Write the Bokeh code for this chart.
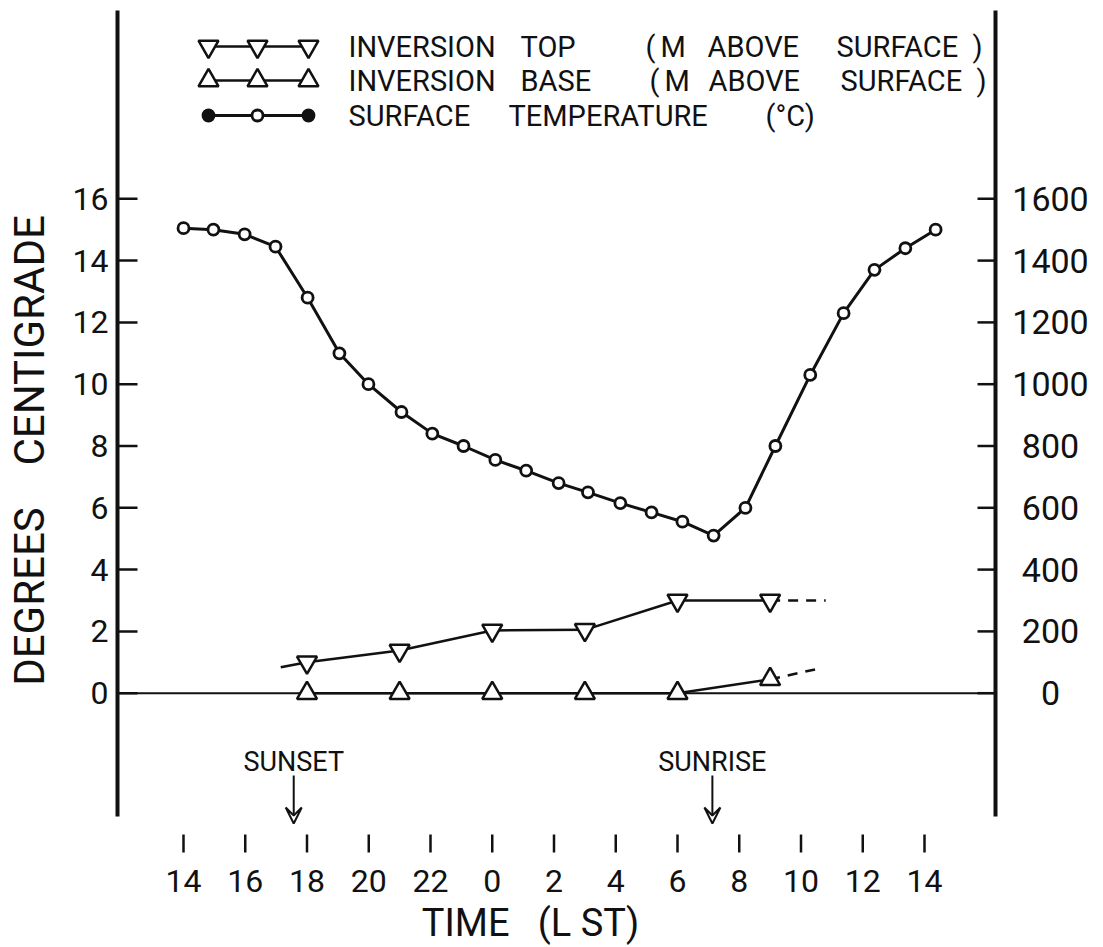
from bokeh.plotting import figure
from bokeh.models import Range1d, Arrow, VeeHead, ColumnDataSource
from bokeh.embed import file_html
from bokeh.resources import INLINE
from bokeh.core.properties import value

FONT = "Roboto"
INK = "#111111"
NB = "\u00a0"

# Surface temperature (deg C), read hourly from 14 LST to 14 LST next day;
# times are hours elapsed since 14 LST as plotted
temp_hours = [0, 0.97, 1.98, 2.98, 4.02, 5.05, 5.99, 7.06, 8.06, 9.07, 10.1, 11.1, 12.15,
              13.1, 14.15, 15.16, 16.16, 17.17, 18.2, 19.17, 20.3, 21.38, 22.38, 23.38, 24.36]
temp_c = [15.05, 15.0, 14.85, 14.45, 12.8, 11.0, 10.0, 9.1, 8.4, 8.0, 7.55, 7.2, 6.8,
          6.5, 6.15, 5.85, 5.55, 5.1, 6.0, 8.0, 10.3, 12.3, 13.7, 14.4, 15.0]

# Three-hourly soundings: inversion top and base (m above surface)
inv_clock = [18, 21, 0, 3, 6, 9]
inv_top_m = [100, 138, 203, 205, 300, 300]
inv_base_m = [0, 0, 0, 0, 0, 45]

# Extrapolated ends of the inversion curves
top_lead_clock = [17.15, 18]
top_lead_m = [84, 100]
top_tail_clock = [9, 10.8]
top_tail_m = [300, 300]
base_tail_clock = [9, 10.6]
base_tail_m = [45, 80]

# Sunset / sunrise times (LST, decimal hours)
sun_events = ["SUNSET", "SUNRISE"]
sun_clock = [17.57, 7.13]

# Axis ticks
time_tick_labels = [14, 16, 18, 20, 22, 0, 2, 4, 6, 8, 10, 12, 14]
deg_ticks = [0, 2, 4, 6, 8, 10, 12, 14, 16]
m_ticks = [0, 200, 400, 600, 800, 1000, 1200, 1400, 1600]


def elapsed(clocks, start=14):
    """Unwrap clock hours into hours elapsed since the 14 LST start."""
    out, total, prev = [], 0.0, start
    for c in clocks:
        total += (c - prev) % 24
        out.append(total)
        prev = c
    return out


# Page geometry (pixels) and conversions into data units
W, H = 1103, 947
X0, PXH = 183.0, 30.875      # x pixel of 14 LST, pixels per hour
Y0, PXD = 692.7, 30.9        # y pixel of 0 deg C, pixels per degree


def hx(px):
    return (px - X0) / PXH


def dy(py):
    return (Y0 - py) / PXD


p = figure(width=W, height=H,
           x_range=Range1d(hx(0), hx(W)), y_range=Range1d(dy(H), dy(0)),
           x_axis_type=None, y_axis_type=None,
           output_backend="svg", toolbar_location=None, min_border=0)
p.extra_y_ranges = {"m": Range1d(100 * dy(H), 100 * dy(0))}
p.outline_line_color = None
p.background_fill_color = "white"
p.border_fill_color = "white"

AX_L, AX_R, AX_TOP, AX_BOT = 117, 995, 10, 816

# Heavy vertical axis lines and the zero line
p.segment(x0=[hx(AX_L), hx(AX_R)], y0=[dy(AX_BOT)] * 2,
          x1=[hx(AX_L), hx(AX_R)], y1=[dy(AX_TOP)] * 2,
          line_width=4, line_color=INK)
p.segment(x0=[hx(AX_L)], y0=[0], x1=[hx(AX_R)], y1=[0], line_width=2, line_color=INK)

# Left axis: degrees centigrade
p.segment(x0=[hx(AX_L)] * len(deg_ticks), y0=deg_ticks,
          x1=[hx(AX_L + 20)] * len(deg_ticks), y1=deg_ticks,
          line_width=2.5, line_color=INK)
p.text(x=[hx(108)] * len(deg_ticks), y=deg_ticks, text=[str(t) for t in deg_ticks],
       text_font=value(FONT), text_font_size="32px", text_align="right",
       text_baseline="middle", text_color=INK)

# Right axis: metres above surface
p.segment(x0=[hx(AX_R - 18)] * len(m_ticks), y0=m_ticks,
          x1=[hx(AX_R)] * len(m_ticks), y1=m_ticks, y_range_name="m",
          line_width=2.5, line_color=INK)
p.text(x=[hx(1050)] * len(m_ticks), y=m_ticks, text=[str(t) for t in m_ticks],
       y_range_name="m", text_font=value(FONT), text_font_size="34px",
       text_align="center", text_baseline="middle", text_color=INK)

# Bottom axis: local standard time
tick_pos = elapsed(time_tick_labels)
p.segment(x0=tick_pos, y0=[dy(834)] * len(tick_pos),
          x1=tick_pos, y1=[dy(852)] * len(tick_pos),
          line_width=2.5, line_color=INK)
p.text(x=tick_pos, y=[dy(880)] * len(tick_pos), text=[str(t) for t in time_tick_labels],
       text_font=value(FONT), text_font_size="32px", text_align="center",
       text_baseline="middle", text_color=INK)

# Surface temperature
p.line(temp_hours, temp_c, line_color=INK, line_width=3)
p.scatter(temp_hours, temp_c, marker="circle", size=11, line_color=INK, line_width=2.8,
          fill_color="white")

# Inversion top
ix = elapsed(inv_clock)
p.line(elapsed(top_lead_clock), top_lead_m, y_range_name="m", line_color=INK, line_width=2.5)
p.line(elapsed(top_tail_clock), top_tail_m, y_range_name="m", line_color=INK, line_width=2.5,
       line_dash="10 8")
p.line(ix, inv_top_m, y_range_name="m", line_color=INK, line_width=2.5)
p.scatter(ix, inv_top_m, y_range_name="m", marker="inverted_triangle", size=20,
          line_color=INK, line_width=2.5, fill_color="white")

# Inversion base
p.line(elapsed(base_tail_clock), base_tail_m, y_range_name="m", line_color=INK, line_width=2.5,
       line_dash="10 8")
p.line(ix, inv_base_m, y_range_name="m", line_color=INK, line_width=2.5)
p.scatter(ix, inv_base_m, y_range_name="m", marker="triangle", size=20,
          line_color=INK, line_width=2.5, fill_color="white")

# Sunset / sunrise markers
sx = elapsed(sun_clock)
p.text(x=sx, y=[dy(761)] * 2, text=sun_events, text_font=value(FONT),
       text_font_size="27px", text_align="center", text_baseline="middle", text_color=INK)
sun_src = ColumnDataSource(dict(x=sx, y0=[dy(775)] * 2, y1=[dy(823)] * 2))
p.add_layout(Arrow(source=sun_src, x_start="x", y_start="y0", x_end="x", y_end="y1",
                   line_width=2, line_color=INK,
                   end=VeeHead(size=16, line_width=2, line_color=INK, fill_color=None)))

# Key
rows_y = [dy(46), dy(80), dy(115)]
key_x = [hx(208), hx(257), hx(308)]
p.line(key_x, [rows_y[0]] * 3, line_color=INK, line_width=2.5)
p.scatter(key_x, [rows_y[0]] * 3, marker="inverted_triangle", size=20, line_color=INK,
          line_width=2.5, fill_color="white")
p.line(key_x, [rows_y[1]] * 3, line_color=INK, line_width=2.5)
p.scatter(key_x, [rows_y[1]] * 3, marker="triangle", size=20, line_color=INK,
          line_width=2.5, fill_color="white")
p.line(key_x, [rows_y[2]] * 3, line_color=INK, line_width=3)
p.scatter(key_x, [rows_y[2]] * 3, marker="circle", size=11, line_color=INK,
          line_width=2.8, fill_color=[INK, "white", INK])

key_words = [
    ("INVERSION", 348, 0), ("TOP", 520, 0), ("(", 645, 0), ("M", 660, 0),
    ("ABOVE", 707, 0), ("SURFACE", 836, 0), (")", 972, 0),
    ("INVERSION", 348, 1), ("BASE", 520, 1), ("(", 649, 1), ("M", 664, 1),
    ("ABOVE", 708, 1), ("SURFACE", 840, 1), (")", 976, 1),
    ("SURFACE", 348, 2), ("TEMPERATURE", 508, 2), ("(°C)", 765, 2),
]
p.text(x=[hx(k[1]) for k in key_words], y=[rows_y[k[2]] for k in key_words],
       text=[k[0] for k in key_words], text_font=value(FONT), text_font_size="29px",
       text_align="left", text_baseline="middle", text_color=INK)

# Axis titles
p.text(x=[hx(29)], y=[dy(450)], text=["DEGREES" + NB * 4 + "CENTIGRADE"], angle=1.5708,
       text_font=value(FONT), text_font_size="42px", text_align="center",
       text_baseline="middle", text_color=INK)
p.text(x=[hx(530)], y=[dy(922)], text=["TIME" + NB * 3 + "(L" + NB + "ST)"],
       text_font=value(FONT), text_font_size="38px", text_align="center",
       text_baseline="middle", text_color=INK)

open("out.html", "w").write(file_html(p, INLINE))
